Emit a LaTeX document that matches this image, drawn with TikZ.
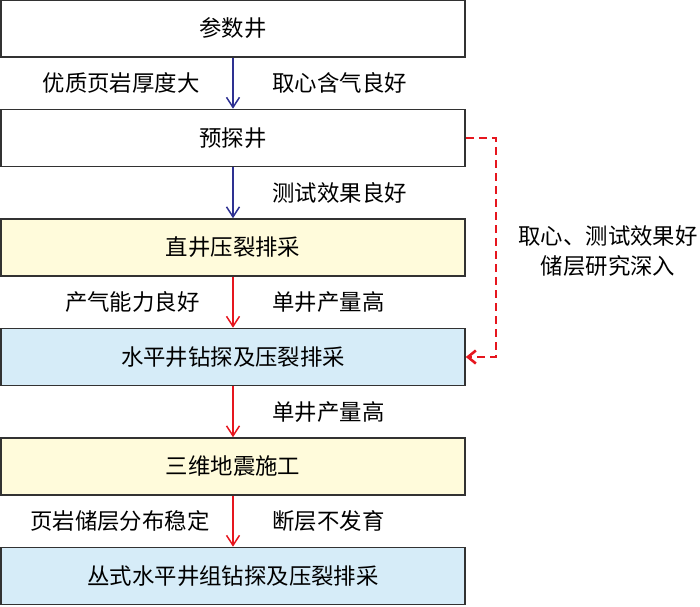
\documentclass[tikz,border=0pt]{standalone}
\usepackage{fontspec}
\setmainfont{Noto Sans CJK SC}
\usepackage{xcolor}
\usetikzlibrary{arrows.meta, positioning}

\definecolor{boxedge}{RGB}{50,50,50}
\definecolor{boxyellow}{RGB}{255,251,219}
\definecolor{boxblue}{RGB}{214,236,248}
\definecolor{arrowblue}{RGB}{46,49,146}
\definecolor{arrowred}{RGB}{230,22,30}

\begin{document}
\begin{tikzpicture}[font=\fontsize{11.2}{15}\selectfont, node distance=54.75pt]
            \tikzstyle{stage} = [rectangle, minimum width=232pt, minimum height=28.5pt, text centered, draw=boxedge, line width=0.8pt, inner sep=0pt]
            \tikzstyle{bluearrow} = [arrowblue, line width=0.75pt, -{Straight Barb[length=5pt, width=6.5pt]}]
            \tikzstyle{redarrow} = [arrowred, line width=0.75pt, -{Straight Barb[length=5pt, width=6.5pt]}]
            \tikzstyle{feedback} = [arrowred, line width=1.3pt, dash pattern=on 4pt off 2.5pt, -{Straight Barb[length=4pt, width=6.5pt]}]
            \tikzstyle{cond} = [text=black]

            \useasboundingbox (0,0) rectangle (350pt,-303pt);

            \node (canshu)[stage] at (116.5pt,-14.25pt){参数井};
            \node (yutan)[stage, below of=canshu]{预探井};
            \node (zhijing)[stage, fill=boxyellow, below of=yutan]{直井压裂排采};
            \node (shuiping)[stage, fill=boxblue, below of=zhijing]{水平井钻探及压裂排采};
            \node (dizhen)[stage, fill=boxyellow, below of=shuiping]{三维地震施工};
            \node (congshi)[stage, fill=boxblue, below of=dizhen]{丛式水平井组钻探及压裂排采};

            \draw [bluearrow] (canshu.south) -- node[cond, left=13pt]{优质页岩厚度大} node[cond, right=16pt]{取心含气良好} (yutan.north);
            \draw [bluearrow] (yutan.south) -- node[cond, right=16pt]{测试效果良好} (zhijing.north);
            \draw [redarrow] (zhijing.south) -- node[cond, left=13pt]{产气能力良好} node[cond, right=16pt]{单井产量高} (shuiping.north);
            \draw [redarrow] (shuiping.south) -- node[cond, right=16pt]{单井产量高} (dizhen.north);
            \draw [redarrow] (dizhen.south) -- node[cond, left=8pt]{页岩储层分布稳定} node[cond, right=16pt]{断层不发育} (congshi.north);

            \draw [feedback] (yutan.east) -- ++(15pt,0) |- (shuiping.east);
            \node (note)[align=center] at ([xshift=187.5pt, yshift=-2pt]zhijing.center){取心、测试效果好\\储层研究深入};
\end{tikzpicture}
\end{document}
